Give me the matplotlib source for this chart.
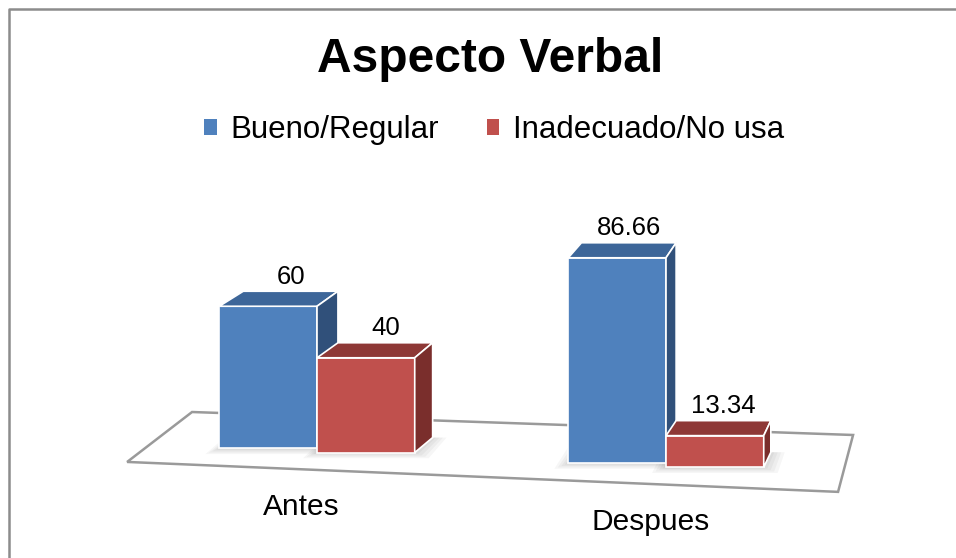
import matplotlib.pyplot as plt
from matplotlib.patches import Patch, Polygon
from matplotlib.lines import Line2D

plt.rcParams["font.family"] = ["Liberation Sans", "DejaVu Sans"]

# data
categories = ["Antes", "Despues"]
series = ["Bueno/Regular", "Inadecuado/No usa"]
bueno = [60, 86.66]
inadecuado = [40, 13.34]

front_col = ["#4F81BD", "#C0504D"]
top_col = ["#3D6699", "#8E3836"]
side_col = ["#30507A", "#7A2E2C"]

# fake 3D geometry (category units on x, value units on y)
w = 0.28        # bar width
tilt = 6.2      # floor drop per category
depth = 6.33    # bar depth seen as vertical rise


def base(x):
    return -tilt * x


def shift(x):
    # horizontal offset of the back face, smaller to the right (perspective)
    return 0.060 - 0.031 * x


fig = plt.figure(figsize=(9.56, 5.58), dpi=100)
ax = fig.add_axes([0, 0, 1, 1])
ax.set_xlim(-0.9083, 1.8309)
ax.set_ylim(-45.36, 190.1)
ax.axis("off")

# floor
fx0, fx1 = -0.544, 1.493
bx0, bx1 = -0.358, 1.536
floor = Polygon([(fx0, base(fx0) - 8.2), (fx1, base(fx1) - 8.2),
                 (bx1, 14.41 - 5.12 * bx1), (bx0, 14.41 - 5.12 * bx0)],
                closed=True, facecolor="white", edgecolor="#9a9a9a", lw=1.8, zorder=1)
ax.add_patch(floor)

values = [bueno, inadecuado]
for i, cat in enumerate(categories):
    for j in range(len(series)):
        xc = i + (j - 0.5) * w
        left, right = xc - w / 2, xc + w / 2
        b = base(xc)
        h = values[j][i]
        z = 3 + i * 3 + j
        # soft shadow around the footprint
        for k in range(4):
            e = 0.01 * (k + 1)
            sh = Polygon([(left - e, b - 0.6 * (k + 1)), (right + e, b - 0.6 * (k + 1)),
                          (right + shift(right) + e, b + depth), (left + shift(left) - e, b + depth)],
                         closed=True, facecolor="black", alpha=0.035, lw=0, zorder=2)
            ax.add_patch(sh)
        ax.bar(xc, h, width=w, bottom=b, color=front_col[j], edgecolor="white",
               linewidth=1.2, zorder=z)
        top = Polygon([(left, b + h), (right, b + h),
                       (right + shift(right), b + h + depth), (left + shift(left), b + h + depth)],
                      closed=True, facecolor=top_col[j], edgecolor="white", lw=1.2, zorder=z)
        side = Polygon([(right, b), (right, b + h),
                        (right + shift(right), b + h + depth), (right + shift(right), b + depth)],
                       closed=True, facecolor=side_col[j], edgecolor="white", lw=1.2, zorder=z)
        ax.add_patch(top)
        ax.add_patch(side)
        ax.text(xc + shift(xc), b + h + depth + 3.2, f"{h:g}", ha="center", va="baseline",
                fontsize=18.5, zorder=20)
    ax.text(i - 0.045, base(i) - 27.4, cat, ha="center", va="baseline", fontsize=21.5)

fig.text(490 / 956, 1 - 59 / 558, "Aspecto Verbal", ha="center", va="center",
         fontsize=34.5, fontweight="bold")

handles = [Patch(facecolor=c, edgecolor="none") for c in front_col]
fig.legend(handles, series, loc="center", bbox_to_anchor=(494 / 956, 1 - 130 / 558),
           ncol=2, frameon=False, fontsize=22.5, handlelength=0.4, handleheight=0.4,
           handletextpad=0.42, columnspacing=1.55, borderpad=0)

# chart frame (only top and left edges are inside the picture)
fig.add_artist(Line2D([9 / 956, 9 / 956, 1], [0, 1 - 9 / 558, 1 - 9 / 558],
                      color="#8c8c8c", lw=1.8))

fig.savefig("out.png", dpi=100)
